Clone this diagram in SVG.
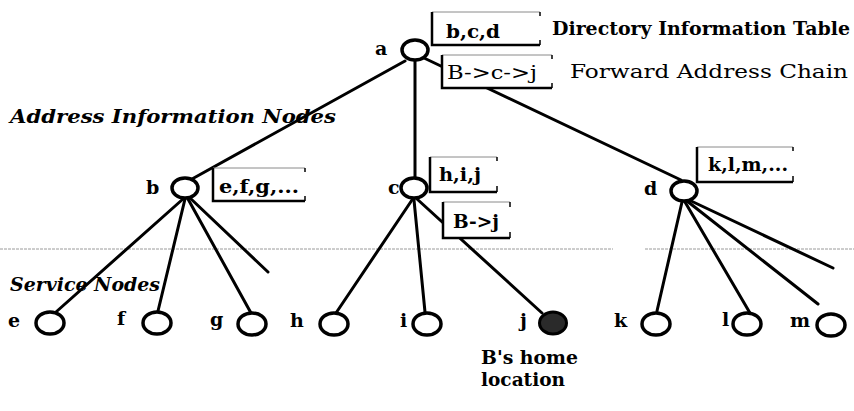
<svg xmlns="http://www.w3.org/2000/svg" width="854" height="411" viewBox="0 0 854 411">
  <style>
    .edge { stroke: #000; stroke-width: 3; fill: none; stroke-linecap: round; }
    .ring { fill: #fff; stroke: #000; stroke-width: 3.5; }
    .home { fill: #2a2a2a; stroke: #000; stroke-width: 3; }
    .lbl { font-family: "DejaVu Serif", "Liberation Serif", serif; font-weight: bold; font-size: 19px; fill: #000; }
    .tbl { font-family: "DejaVu Serif", "Liberation Serif", serif; font-weight: bold; font-size: 18px; fill: #000; }
    .chain { font-family: "DejaVu Serif", "Liberation Serif", serif; font-size: 18px; fill: #000; }
    .cap { font-family: "DejaVu Serif", "Liberation Serif", serif; font-size: 18px; fill: #000; }
    .layer { font-family: "DejaVu Serif", "Liberation Serif", serif; font-weight: bold; font-style: italic; font-size: 19px; fill: #000; }
    .boxfill { fill: #fff; stroke: none; }
    .boxtop { stroke: #8a8a8a; stroke-width: 1; fill: none; }
    .boxside { stroke: #000; stroke-width: 2.5; fill: none; }
    .boxtick { stroke: #000; stroke-width: 1.5; fill: none; }
    .divider { stroke: #9a9a9a; stroke-width: 1; stroke-dasharray: 3 1; fill: none; }
  </style>

  <!-- level divider -->
  <g id="divider">
    <line class="divider" x1="0" y1="249" x2="613" y2="249"/>
    <line class="divider" x1="645" y1="249" x2="854" y2="249"/>
  </g>

  <!-- layer captions -->
  <g id="captions">
    <text class="layer" x="10" y="123" textLength="326" lengthAdjust="spacingAndGlyphs">Address Information Nodes</text>
    <text class="layer" x="10" y="291" textLength="150" lengthAdjust="spacingAndGlyphs">Service Nodes</text>
  </g>

  <!-- connectors -->
  <g id="connectors">
    <line class="edge" x1="405" y1="61" x2="192" y2="179"/>
    <line class="edge" x1="415" y1="61" x2="415" y2="177"/>
    <line class="edge" x1="424" y1="58" x2="681" y2="180"/>

    <line class="edge" x1="183" y1="199" x2="56" y2="312"/>
    <line class="edge" x1="185" y1="199" x2="158" y2="311"/>
    <line class="edge" x1="188" y1="199" x2="251" y2="313"/>
    <line class="edge" x1="190" y1="198" x2="268" y2="272"/>

    <line class="edge" x1="412" y1="200" x2="336" y2="313"/>
    <line class="edge" x1="414" y1="200" x2="425" y2="312"/>
    <line class="edge" x1="417" y1="199" x2="542" y2="313"/>

    <line class="edge" x1="682" y1="202" x2="657" y2="311"/>
    <line class="edge" x1="685" y1="202" x2="750" y2="313"/>
    <line class="edge" x1="687" y1="201" x2="818" y2="304"/>
    <line class="edge" x1="689" y1="200" x2="833" y2="268"/>
  </g>

  <!-- address information nodes -->
  <g id="node-a">
    <text class="lbl" x="375" y="55">a</text>
    <ellipse class="ring" cx="415" cy="50" rx="13" ry="10"/>
  </g>
  <g id="table-a">
    <rect class="boxfill" x="432" y="12" width="108" height="33"/>
    <line class="boxtop" x1="432" y1="12" x2="540" y2="12"/>
    <polyline class="boxside" points="432,12 432,45 540,45"/>
    <line class="boxtick" x1="540" y1="12" x2="540" y2="16"/>
    <line class="boxtick" x1="540" y1="40" x2="540" y2="45"/>
    <text class="tbl" x="446" y="38" textLength="54" lengthAdjust="spacingAndGlyphs">b,c,d</text>
    <text class="tbl" x="552" y="35" textLength="298" lengthAdjust="spacingAndGlyphs">Directory Information Table</text>
  </g>
  <g id="chain-a">
    <rect class="boxfill" x="442" y="55" width="110" height="33"/>
    <line class="boxtop" x1="442" y1="55" x2="552" y2="55"/>
    <polyline class="boxside" points="442,55 442,88 552,88"/>
    <line class="boxtick" x1="552" y1="55" x2="552" y2="59"/>
    <line class="boxtick" x1="552" y1="83" x2="552" y2="88"/>
    <text class="chain" x="447" y="79" textLength="90" lengthAdjust="spacingAndGlyphs">B-&gt;c-&gt;j</text>
    <text class="cap" x="570" y="78" textLength="278" lengthAdjust="spacingAndGlyphs">Forward Address Chain</text>
  </g>

  <g id="node-b">
    <text class="lbl" x="146" y="194">b</text>
    <ellipse class="ring" cx="185" cy="188" rx="13" ry="10"/>
  </g>
  <g id="table-b">
    <rect class="boxfill" x="213" y="168" width="92" height="33"/>
    <line class="boxtop" x1="213" y1="168" x2="305" y2="168"/>
    <polyline class="boxside" points="213,168 213,201 305,201"/>
    <line class="boxtick" x1="305" y1="168" x2="305" y2="172"/>
    <line class="boxtick" x1="305" y1="196" x2="305" y2="201"/>
    <text class="tbl" x="219" y="193" textLength="80" lengthAdjust="spacingAndGlyphs">e,f,g,...</text>
  </g>

  <g id="node-c">
    <text class="lbl" x="388" y="194">c</text>
    <ellipse class="ring" cx="414" cy="188" rx="13" ry="10"/>
  </g>
  <g id="table-c">
    <rect class="boxfill" x="430" y="157" width="67" height="35"/>
    <line class="boxtop" x1="430" y1="157" x2="497" y2="157"/>
    <polyline class="boxside" points="430,157 430,192 497,192"/>
    <line class="boxtick" x1="497" y1="157" x2="497" y2="161"/>
    <line class="boxtick" x1="497" y1="186" x2="497" y2="192"/>
    <text class="tbl" x="439" y="181" textLength="42" lengthAdjust="spacingAndGlyphs">h,i,j</text>
  </g>
  <g id="chain-c">
    <rect class="boxfill" x="443" y="202" width="67" height="36"/>
    <line class="boxtop" x1="443" y1="202" x2="510" y2="202"/>
    <polyline class="boxside" points="443,202 443,238 510,238"/>
    <line class="boxtick" x1="510" y1="202" x2="510" y2="207"/>
    <line class="boxtick" x1="510" y1="232" x2="510" y2="238"/>
    <text class="tbl" x="453" y="228" textLength="46" lengthAdjust="spacingAndGlyphs">B-&gt;j</text>
  </g>

  <g id="node-d">
    <text class="lbl" x="644" y="195">d</text>
    <ellipse class="ring" cx="684" cy="191" rx="13" ry="10"/>
  </g>
  <g id="table-d">
    <rect class="boxfill" x="697" y="147" width="96" height="35"/>
    <line class="boxtop" x1="697" y1="147" x2="793" y2="147"/>
    <polyline class="boxside" points="697,147 697,182 793,182"/>
    <line class="boxtick" x1="793" y1="147" x2="793" y2="151"/>
    <line class="boxtick" x1="793" y1="176" x2="793" y2="182"/>
    <text class="tbl" x="708" y="171" textLength="80" lengthAdjust="spacingAndGlyphs">k,l,m,...</text>
  </g>

  <!-- service nodes -->
  <g id="node-e">
    <text class="lbl" x="8" y="327">e</text>
    <ellipse class="ring" cx="50" cy="323" rx="14" ry="11"/>
  </g>
  <g id="node-f">
    <text class="lbl" x="117" y="325">f</text>
    <ellipse class="ring" cx="157" cy="323" rx="14" ry="11"/>
  </g>
  <g id="node-g">
    <text class="lbl" x="210" y="326">g</text>
    <ellipse class="ring" cx="252" cy="324" rx="14" ry="11"/>
  </g>
  <g id="node-h">
    <text class="lbl" x="290" y="327">h</text>
    <ellipse class="ring" cx="334" cy="324" rx="14" ry="11"/>
  </g>
  <g id="node-i">
    <text class="lbl" x="400" y="327">i</text>
    <ellipse class="ring" cx="427" cy="324" rx="14" ry="11"/>
  </g>
  <g id="node-j">
    <text class="lbl" x="520" y="327">j</text>
    <ellipse class="home" cx="553" cy="323" rx="13.5" ry="11"/>
    <text class="tbl" x="481" y="364" textLength="97" lengthAdjust="spacingAndGlyphs">B's home</text>
    <text class="tbl" x="481" y="386" textLength="84" lengthAdjust="spacingAndGlyphs">location</text>
  </g>
  <g id="node-k">
    <text class="lbl" x="614" y="327">k</text>
    <ellipse class="ring" cx="656" cy="324" rx="14" ry="11"/>
  </g>
  <g id="node-l">
    <text class="lbl" x="722" y="326">l</text>
    <ellipse class="ring" cx="747" cy="324" rx="14" ry="11"/>
  </g>
  <g id="node-m">
    <text class="lbl" x="790" y="327">m</text>
    <ellipse class="ring" cx="831" cy="325" rx="14" ry="11"/>
  </g>
</svg>
